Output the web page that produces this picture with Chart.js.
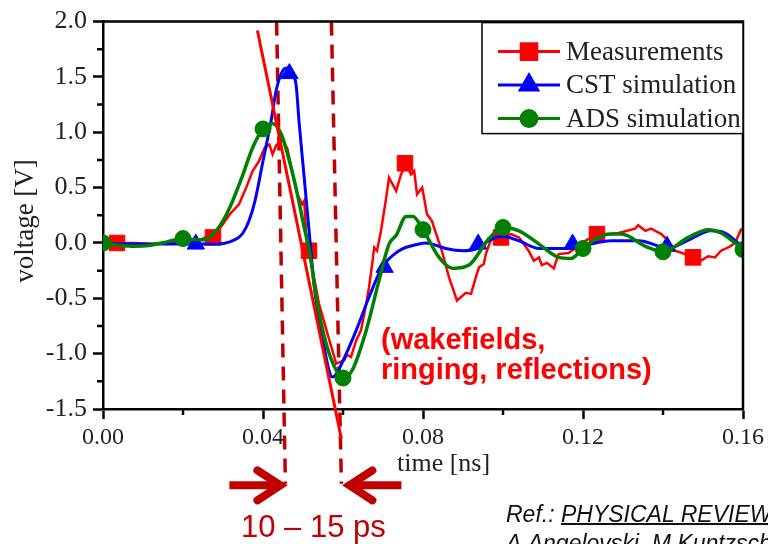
<!DOCTYPE html>
<html>
<head>
<meta charset="utf-8">
<script src="https://cdn.jsdelivr.net/npm/chart.js@4.4.1/dist/chart.umd.min.js"></script>
<style>
  html, body { margin: 0; padding: 0; background: #fff; overflow: hidden; }
  #wrap { position: relative; width: 768px; height: 544px; overflow: hidden; }
  #chart { position: absolute; left: 0; top: 0; }
  .lbl { position: absolute; white-space: nowrap; }
  .serif { font-family: 'Liberation Serif', 'Times New Roman', serif; color: #222; font-size: 26px; line-height: 26px; }
  #ytitle { left: -76px; top: 208px; width: 200px; text-align: center; transform: rotate(-90deg); font-size: 27px; }
  #xtitle { left: 397px; top: 450px; }
  #note { left: 381px; top: 324px; font-family: 'Liberation Sans', Arial, sans-serif; font-weight: bold;
          font-size: 29px; line-height: 30px; color: #ff0000; }
  #width { left: 241px; top: 511px; font-family: 'Liberation Sans', Arial, sans-serif;
           font-size: 31px; line-height: 31px; color: #c00000; }
  #ref { left: 506px; top: 500px; font-family: 'Liberation Sans', Arial, sans-serif; font-style: italic;
         font-size: 23px; line-height: 29px; color: #111; }
  #ref u { text-decoration-thickness: 1.5px; }
</style>
</head>
<body>
<div id="wrap">
  <canvas id="chart" width="768" height="544"></canvas>
  <div class="lbl serif" id="ytitle">voltage [V]</div>
  <div class="lbl serif" id="xtitle">time [ns]</div>
  <div class="lbl" id="note">(wakefields,<br>ringing, reflections)</div>
  <div class="lbl" id="width">10 – 15 ps</div>
  <div class="lbl" id="ref">Ref.: <u>PHYSICAL REVIEW</u><br>A.Angelovski, M.Kuntzsch</div>
</div>
<script>
// tiempo en ns, tension en V
var measT = [0, 0.0035, 0.008, 0.012, 0.016, 0.020, 0.024, 0.026, 0.0275, 0.029, 0.0317, 0.034, 0.0358, 0.0374,
  0.039, 0.0404, 0.0416, 0.0424, 0.0433, 0.0449, 0.0461, 0.0473, 0.0486, 0.0498, 0.0503, 0.051, 0.0515, 0.054,
  0.0566, 0.0583, 0.0603, 0.061, 0.062, 0.0633, 0.0645, 0.0658, 0.0665, 0.0673, 0.0678, 0.0685, 0.0695, 0.0708,
  0.0715, 0.0733, 0.0745, 0.0758, 0.077, 0.0778, 0.0785, 0.0798, 0.081, 0.0822, 0.0847, 0.0865, 0.0885, 0.0907,
  0.092, 0.0932, 0.094, 0.0952, 0.0957, 0.0972, 0.0995, 0.102, 0.104, 0.1064, 0.1077, 0.109, 0.1097, 0.111,
  0.1127, 0.1139, 0.1164, 0.1206, 0.1235, 0.127, 0.1289, 0.133, 0.1338, 0.1356, 0.137, 0.1396, 0.1413, 0.143,
  0.1455, 0.1475, 0.1495, 0.1513, 0.153, 0.1545, 0.1568, 0.158, 0.1595, 0.16];
var measV = [0, 0, 0, -0.01, 0, 0.01, 0.02, 0.06, 0.06, 0.12, 0.26, 0.35, 0.50, 0.65,
  0.74, 0.86, 0.89, 0.80, 0.88, 0.94, 0.85, 0.65, 0.44, 0.35, 0.38, -0.04, -0.07, -0.55,
  -0.88, -1.09, -1.06, -1.01, -1.03, -0.88, -0.79, -0.55, -0.40, -0.19, -0.04, -0.07, 0.11, 0.41,
  0.59, 0.47, 0.62, 0.71, 0.62, 0.65, 0.44, 0.50, 0.26, 0.20, -0.07, -0.31, -0.52, -0.45,
  -0.46, -0.31, -0.22, -0.19, -0.10, 0.05, 0.05, 0.08, 0.05, -0.07, -0.16, -0.13, -0.20, -0.18,
  -0.23, -0.10, -0.09, 0.02, 0.08, 0.08, 0.09, 0.13, 0.16, 0.11, 0.13, 0.08, 0.02, -0.07,
  -0.10, -0.13, -0.16, -0.12, -0.13, -0.07, -0.03, 0, 0.12, 0.13];
var measMarkT = [0.0035, 0.0275, 0.0515, 0.0755, 0.0995, 0.1235, 0.1475];
var measMarkV = [0, 0.05, -0.07, 0.72, 0.05, 0.08, -0.13];

var cstT = [0, 0.005, 0.010, 0.015, 0.020, 0.025, 0.029, 0.0317, 0.0335, 0.035, 0.0365, 0.038, 0.040, 0.042,
  0.0433, 0.045, 0.046, 0.047, 0.0483, 0.049, 0.0503, 0.0516, 0.053, 0.055, 0.0565, 0.0573, 0.058, 0.0598,
  0.0633, 0.0665, 0.0698, 0.074, 0.079, 0.0807, 0.0857, 0.090, 0.0935, 0.0965, 0.0997, 0.104, 0.109, 0.1164,
  0.1206, 0.127, 0.134, 0.139, 0.1412, 0.146, 0.152, 0.1555, 0.16];
var cstV = [0, -0.01, -0.01, -0.01, -0.01, -0.01, -0.01, 0.01, 0.04, 0.09, 0.20, 0.38, 0.74, 1.10,
  1.38, 1.56, 1.58, 1.55, 1.42, 1.10, 0.59, 0.08, -0.45, -0.88, -1.15, -1.21, -1.20, -1.08,
  -0.79, -0.49, -0.22, -0.07, -0.01, 0, -0.05, -0.07, -0.05, 0.02, 0.06, 0.02, -0.05, -0.05,
  -0.02, 0.02, 0.02, -0.03, -0.05, 0.02, 0.11, 0.09, -0.04];
var cstMarkT = [0.0232, 0.0466, 0.0704, 0.0938, 0.1174, 0.141];
var cstMarkV = [-0.01, 1.53, -0.22, -0.01, -0.01, -0.03];

var adsT = [0, 0.004, 0.008, 0.012, 0.016, 0.020, 0.023, 0.0255, 0.028, 0.030, 0.0317, 0.035, 0.0374, 0.040,
  0.0424, 0.0446, 0.0466, 0.0486, 0.0503, 0.0516, 0.0533, 0.0558, 0.0583, 0.060, 0.0623, 0.0658, 0.069, 0.0715,
  0.0733, 0.0758, 0.0775, 0.080, 0.084, 0.0875, 0.0915, 0.0965, 0.100, 0.104, 0.109, 0.1139, 0.117, 0.120,
  0.1239, 0.127, 0.1296, 0.1356, 0.140, 0.1463, 0.1513, 0.1545, 0.158, 0.16];
var adsV = [0, -0.02, -0.03, -0.02, 0.01, 0.04, 0.03, 0.03, 0.10, 0.20, 0.32, 0.62, 0.86, 1.03,
  1.08, 0.98, 0.74, 0.44, 0.14, -0.07, -0.49, -0.91, -1.15, -1.22, -1.15, -0.79, -0.34, -0.01,
  0.07, 0.24, 0.24, 0.12, -0.13, -0.23, -0.20, 0.04, 0.14, 0.11, -0.01, -0.13, -0.14, -0.05,
  0.05, 0.08, 0.08, -0.03, -0.08, 0.05, 0.12, 0.09, 0, -0.06];
var adsMarkT = [0, 0.02, 0.04, 0.06, 0.08, 0.10, 0.12, 0.14, 0.16];
var adsMarkV = [0, 0.04, 1.03, -1.22, 0.12, 0.14, -0.05, -0.08, -0.06];

var seriesNames = ['Measurements', 'CST simulation', 'ADS simulation'];

// recta del flanco de bajada y las dos lineas discontinuas
var fallT = [0.0386, 0.0596];
var fallV = [1.92, -1.77];
var edge1T = [0.0434, 0.0456];
var edge2T = [0.0571, 0.0596];
var edgeV = [2.0, -2.175];
var arrowV = -2.19;

var xMinor = [0.02, 0.06, 0.10, 0.14];
var yMinor = [-1.25, -0.75, -0.25, 0.25, 0.75, 1.25, 1.75];

function pts(ts, vs) {
  return ts.map(function(t, i) { return {x: t, y: vs[i]}; });
}

var RED = '#ff0000', BLUE = '#0000ff', GREEN = '#008000', DARKRED = '#c00000';
var serif = "'Liberation Serif', 'Times New Roman', serif";

function lineSet(data, color, w, order, smooth) {
  return { data: data, borderColor: color, borderWidth: w, pointRadius: 0, order: order,
           tension: 0, cubicInterpolationMode: smooth ? 'monotone' : 'default' };
}
function markSet(data, color, style, r, order) {
  return { data: data, showLine: false, pointStyle: style, pointRadius: r, order: order,
           pointBackgroundColor: color, pointBorderColor: color, pointBorderWidth: 1 };
}

// Dibuja marco, marcas menores, leyenda y flechas
var extras = {
  id: 'extras',
  afterDraw: function(chart) {
    var ctx = chart.ctx, a = chart.chartArea, x = chart.scales.x, y = chart.scales.y;
    ctx.save();
    ctx.strokeStyle = '#000';
    ctx.lineWidth = 2.5;
    ctx.beginPath();
    ctx.moveTo(a.left - 1, a.top);
    ctx.lineTo(a.right, a.top);
    ctx.lineTo(a.right, a.bottom + 1);
    ctx.stroke();
    ctx.beginPath();
    xMinor.forEach(function(t) {
      var px = x.getPixelForValue(t);
      ctx.moveTo(px, a.bottom); ctx.lineTo(px, a.bottom + 6);
    });
    yMinor.forEach(function(v) {
      var py = y.getPixelForValue(v);
      ctx.moveTo(a.left - 6, py); ctx.lineTo(a.left, py);
    });
    ctx.stroke();

    // leyenda
    var lx = a.right - 261, ly = a.top + 1;
    ctx.fillStyle = '#fff';
    ctx.fillRect(lx, ly, 261, 111);
    ctx.lineWidth = 1.5;
    ctx.strokeRect(lx, ly, 261, 111);
    var cols = [RED, BLUE, GREEN], styles = ['rect', 'triangle', 'circle'], radii = [11, 10, 8];
    ctx.font = '27px ' + serif;
    ctx.textBaseline = 'middle';
    for (var i = 0; i < 3; i++) {
      var ry = ly + 29 + i * 33.5;
      ctx.strokeStyle = cols[i];
      ctx.lineWidth = 3;
      ctx.beginPath(); ctx.moveTo(lx + 16, ry); ctx.lineTo(lx + 78, ry); ctx.stroke();
      ctx.fillStyle = cols[i];
      Chart.helpers.drawPoint(ctx, {pointStyle: styles[i], radius: radii[i], borderWidth: 1}, lx + 47, ry);
      ctx.fill();
      ctx.fillStyle = '#222';
      ctx.fillText(seriesNames[i], lx + 84, ry + 1);
    }

    // flechas
    var ay = y.getPixelForValue(arrowV);
    function arrow(tip, tail) {
      var d = tail > tip ? 1 : -1;
      ctx.strokeStyle = DARKRED;
      ctx.lineWidth = 8;
      ctx.lineCap = 'butt';
      ctx.beginPath(); ctx.moveTo(tail, ay); ctx.lineTo(tip + d * 6, ay); ctx.stroke();
      ctx.lineJoin = 'miter';
      ctx.lineCap = 'round';
      ctx.beginPath();
      ctx.moveTo(tip + d * 26, ay - 15);
      ctx.lineTo(tip + d * 3, ay);
      ctx.lineTo(tip + d * 26, ay + 15);
      ctx.stroke();
    }
    arrow(x.getPixelForValue(edge1T[1]) - 2, x.getPixelForValue(edge1T[1]) - 56);
    arrow(x.getPixelForValue(edge2T[1]) + 5, x.getPixelForValue(edge2T[1]) + 60);
    ctx.restore();
  }
};

var ctx = document.getElementById('chart').getContext('2d');
var chart = new Chart(ctx, {
  type: 'line',
  data: {
    datasets: [
      { data: pts(fallT, fallV), borderColor: RED, borderWidth: 3, pointRadius: 0, order: 0, clip: false },
      markSet(pts(adsMarkT, adsMarkV), GREEN, 'circle', 8, 1),
      lineSet(pts(adsT, adsV), GREEN, 3.5, 2, true),
      markSet(pts(cstMarkT, cstMarkV), BLUE, 'triangle', 10, 3),
      lineSet(pts(cstT, cstV), BLUE, 3, 4, true),
      markSet(pts(measMarkT, measMarkV), RED, 'rect', 11, 5),
      lineSet(pts(measT, measV), RED, 2.5, 6, false),
      { data: pts(edge1T, edgeV), borderColor: DARKRED, borderWidth: 3.5, borderDash: [14, 9],
        pointRadius: 0, order: 7, clip: false },
      { data: pts(edge2T, edgeV), borderColor: DARKRED, borderWidth: 3.5, borderDash: [14, 9],
        pointRadius: 0, order: 7, clip: false }
    ]
  },
  options: {
    responsive: false,
    animation: false,
    devicePixelRatio: 1,
    layout: { padding: { top: 20, right: 23, left: 0, bottom: 0 } },
    plugins: { legend: { display: false }, tooltip: { enabled: false } },
    scales: {
      x: {
        type: 'linear', min: 0, max: 0.16,
        afterFit: function(s) { s.height = 135; },
        border: { display: true, color: '#000', width: 2.5 },
        grid: { drawOnChartArea: false, drawTicks: true, tickLength: 10, tickWidth: 2.5, tickColor: '#000' },
        ticks: { stepSize: 0.04, padding: 4, color: '#222', maxRotation: 0,
                 font: { family: serif, size: 24 },
                 callback: function(v) { return v.toFixed(2); } }
      },
      y: {
        min: -1.5, max: 2.0,
        afterFit: function(s) { s.width = 103; },
        border: { display: true, color: '#000', width: 2.5 },
        grid: { drawOnChartArea: false, drawTicks: true, tickLength: 10, tickWidth: 2.5, tickColor: '#000' },
        ticks: { stepSize: 0.5, padding: 6, color: '#222',
                 font: { family: serif, size: 26 },
                 callback: function(v) { return v.toFixed(1); } }
      }
    }
  },
  plugins: [extras]
});
</script>
</body>
</html>
